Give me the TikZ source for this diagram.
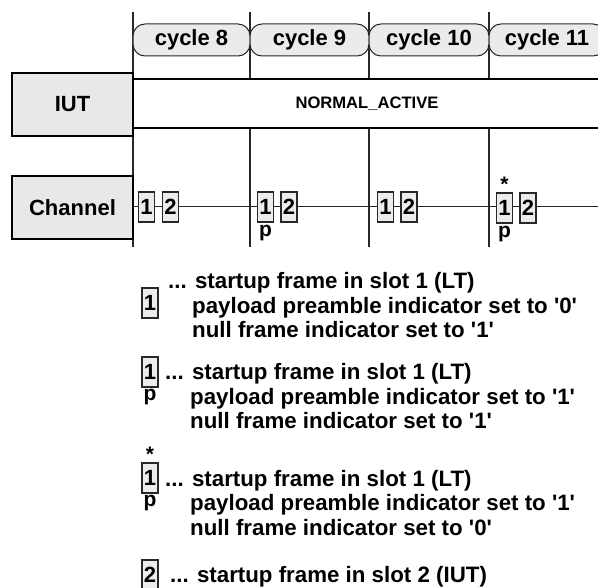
\documentclass[tikz,border=0pt]{standalone}
\usepackage{fontspec}
\setmainfont{Liberation Sans}
\definecolor{boxgray}{RGB}{232,232,232}
\definecolor{pillgray}{RGB}{235,235,235}
\definecolor{framegray}{RGB}{236,236,236}
\definecolor{linegray}{RGB}{40,40,40}
\newcommand{\qs}{\textquotesingle}
\begin{document}
\begin{tikzpicture}[x=1pt,y=-1pt,
  bigtext/.style={font=\bfseries\fontsize{22}{24}\selectfont},
  legfont/.style={font=\bfseries\fontsize{22.3}{24}\selectfont},
  headbox/.style={draw=black, line width=2pt, fill=boxgray, minimum width=121pt,
    minimum height=63pt, inner sep=0pt, bigtext},
  cyclebox/.style={draw=linegray, line width=1pt, fill=pillgray, rounded corners=12pt,
    minimum height=32pt, inner sep=0pt, bigtext},
  framebox/.style={draw=linegray, line width=1.2pt, fill=framegray, minimum width=16pt,
    minimum height=30pt, inner sep=0pt, font=\bfseries\fontsize{22}{22}\selectfont},
  symtext/.style={inner sep=0pt, font=\bfseries\fontsize{21}{21}\selectfont},
  legtext/.style={anchor=base west, inner sep=0pt, legfont},
  gridline/.style={draw=linegray, line width=1.1pt},
  bandline/.style={draw=black, line width=1.2pt}]
\clip (0,0) rectangle (598,588);

% cycle boundaries
\foreach \n/\x in {a/133,b/250,c/369,d/489}{
  \coordinate (top\n) at (\x,12);
  \coordinate (bt\n) at (\x,79);
  \coordinate (bb\n) at (\x,128);
  \coordinate (bot\n) at (\x,247);
}
\draw[gridline] (topa) -- (bota);
\foreach \n in {b,c,d}{
  \draw[gridline] (top\n) -- (bt\n);
  \draw[gridline] (bb\n) -- (bot\n);
}

% cycle labels
\node[cyclebox, minimum width=117pt] (cyc8)  at (191.5,40) {cycle 8};
\node[cyclebox, minimum width=119pt] (cyc9)  at (309.5,40) {cycle 9};
\node[cyclebox, minimum width=120pt] (cyc10) at (429,40)   {cycle 10};
\node[cyclebox, minimum width=116pt] (cyc11) at (547,40)   {cycle 11};

% IUT state band
\coordinate (bandR1) at (598,79);
\coordinate (bandR2) at (598,128);
\draw[bandline] (bta) -- (bandR1);
\draw[bandline] (bba) -- (bandR2);
\node[inner sep=0pt, font=\bfseries\fontsize{16.6}{18}\selectfont] (state) at (367,103.5) {NORMAL\_ACTIVE};
\node[headbox] (iut) at (72.5,104.5) {IUT};

% channel
\node[headbox] (chan) at (72.5,207.5) {Channel};
\coordinate (chanR) at (598,207);
\draw[line width=1pt, draw=linegray] (chan.east |- chanR) -- (chanR);

\node[framebox] (f8a)  at (146.5,207) {1};
\node[framebox] (f8b)  at (170.5,207) {2};
\node[framebox] (f9a)  at (265.5,207) {1};
\node[framebox] (f9b)  at (289,207)   {2};
\node[framebox] (f10a) at (385.5,207) {1};
\node[framebox] (f10b) at (409,207)   {2};
\node[framebox] (f11a) at (504.5,208) {1};
\node[framebox] (f11b) at (528,208)   {2};
\node[symtext, anchor=north] (p9) at ([yshift=-2pt]f9a.south) {p};
\node[symtext, anchor=north] (p11) at ([yshift=-2pt]f11a.south) {p};
\node[symtext, anchor=south] (s11) at ([yshift=1pt]f11a.north) {*};

% legend
\node[framebox] (l1) at (150,303) {1};
\node[legtext] (l1a) at (168,289) {... startup frame in slot 1 (LT)};
\node[legtext] (l1b) at (192,314) {payload preamble indicator set to \qs0\qs};
\node[legtext] (l1c) at (192,338) {null frame indicator set to \qs1\qs};

\node[framebox] (l2) at (150,372) {1};
\node[symtext, anchor=north] (l2p) at ([yshift=-1pt]l2.south) {p};
\node[legtext] (l2a) at (165,380) {... startup frame in slot 1 (LT)};
\node[legtext] (l2b) at (190,405) {payload preamble indicator set to \qs1\qs};
\node[legtext] (l2c) at (190,429) {null frame indicator set to \qs1\qs};

\node[framebox] (l3) at (150,478) {1};
\node[symtext, anchor=north] (l3p) at ([yshift=-1pt]l3.south) {p};
\node[symtext, anchor=south] (l3s) at ([yshift=1pt]l3.north) {*};
\node[legtext] (l3a) at (165,486) {... startup frame in slot 1 (LT)};
\node[legtext] (l3b) at (190,511) {payload preamble indicator set to \qs1\qs};
\node[legtext] (l3c) at (190,536) {null frame indicator set to \qs0\qs};

\node[framebox] (l4) at (150,575) {2};
\node[legtext] (l4a) at (170,582) {... startup frame in slot 2 (IUT)};
\end{tikzpicture}
\end{document}
